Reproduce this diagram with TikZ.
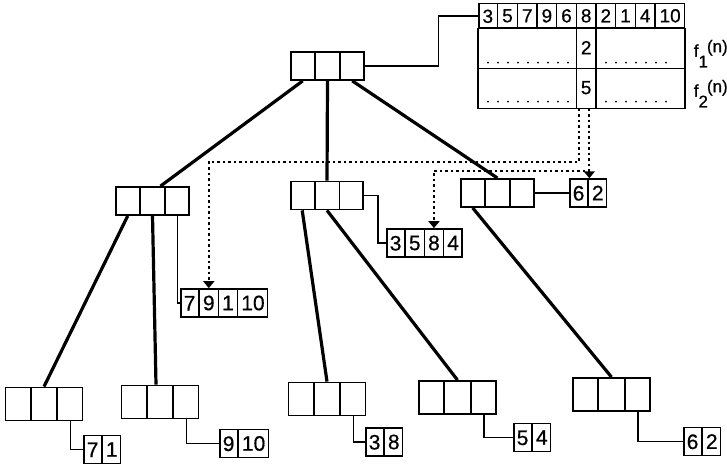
\documentclass[tikz,border=0pt]{standalone}
\usepackage{fontspec}
\setmainfont{Liberation Sans}[FakeBold=0.6]
\usetikzlibrary{shapes.multipart,calc,arrows.meta}
\newcommand{\emptycell}[2]{\makebox[#1]{\rule{0pt}{#2}}}
\newcommand{\cells}[2]{\emptycell{#1}{#2}\nodepart{two}\emptycell{#1}{#2}\nodepart{three}\emptycell{#1}{#2}}
\tikzset{
  trinode/.style={draw, line width=1.8pt, rectangle split, rectangle split horizontal,
    rectangle split parts=3, inner sep=0pt},
  keybox/.style={draw, line width=1.5pt, rectangle split, rectangle split horizontal,
    inner xsep=3pt, inner ysep=6.5pt, text height=15pt, text depth=0pt,
    font=\fontsize{21}{21}\selectfont, anchor=west},
  treeedge/.style={line width=3.2pt},
  link/.style={line width=1.5pt},
  frame/.style={line width=1.6pt},
  rowdots/.style={line width=2pt, dash pattern=on 0pt off 10pt, line cap=round},
  ptr/.style={line width=2pt, dash pattern=on 2.5pt off 3pt, -{Triangle[width=11pt,length=7pt]}},
}
\begin{document}
\begin{tikzpicture}[x=1pt,y=-1pt]
\useasboundingbox (0,0) rectangle (727,465);

% tree
\node[trinode] (root) at (327.5,66) {\cells{23pt}{28pt}};
\node[trinode] (L) at (152.5,201) {\cells{23pt}{28pt}};
\node[trinode] (M) at (327,195.5) {\cells{23pt}{28pt}};
\node[trinode] (R) at (497.5,193) {\cells{23pt}{28pt}};
\node[trinode] (LL) at (44,404) {\cells{24.5pt}{33pt}};
\node[trinode] (LM) at (160,402) {\cells{24.5pt}{33pt}};
\node[trinode] (ML) at (327,399) {\cells{24.5pt}{33pt}};
\node[trinode] (MR) at (457.5,397.5) {\cells{24.5pt}{33pt}};
\node[trinode] (RR) at (611.5,394.5) {\cells{24.5pt}{33pt}};

\draw[treeedge] (root.one south) -- ($(L.north)+(8,0)$);
\draw[treeedge] (root.two south) -- (M.two north);
\draw[treeedge] (root.three south) -- (R.two north);
\draw[treeedge] (L.one south) -- (LL.two north);
\draw[treeedge] (L.two south) -- ($(LM.two north)+(-4,0)$);
\draw[treeedge] (M.one south) -- (ML.two north);
\draw[treeedge] (M.two south) -- (MR.two north);
\draw[treeedge] (R.one south) -- (RR.two north);

% key lists
\node[keybox, rectangle split parts=10, font=\fontsize{19}{19}\selectfont, inner xsep=3.8pt,
  inner ysep=5pt, text height=14pt, anchor=north west] (perm) at (478,3)
  {3\nodepart{two}5\nodepart{three}7\nodepart{four}9\nodepart{five}6\nodepart{six}8%
   \nodepart{seven}2\nodepart{eight}1\nodepart{nine}4\nodepart{ten}10};
\node[keybox, rectangle split parts=4] (k7) at (180,303) {7\nodepart{two}9\nodepart{three}1\nodepart{four}10};
\node[keybox, rectangle split parts=4] (k3) at (386,243) {3\nodepart{two}5\nodepart{three}8\nodepart{four}4};
\node[keybox, rectangle split parts=2] (k6) at (569,193) {6\nodepart{two}2};
\node[keybox, rectangle split parts=2] (k71) at (83,449.5) {7\nodepart{two}1};
\node[keybox, rectangle split parts=2] (k910) at (219,443.5) {9\nodepart{two}10};
\node[keybox, rectangle split parts=2] (k38) at (365,442) {3\nodepart{two}8};
\node[keybox, rectangle split parts=2] (k54) at (513,437.5) {5\nodepart{two}4};
\node[keybox, rectangle split parts=2] (k62) at (683,441.5) {6\nodepart{two}2};

\draw[link] (root.east) -- ++(74,0) |- (perm.west);
\draw[link] (L.three south) |- (k7.west);
\draw[link] (M.east) -- ++(14,0) |- (k3.west);
\draw[link] (R.east) -- (k6.west);
\draw[link] (LL.three south) |- (k71.west);
\draw[link] (LM.three south) |- (k910.west);
\draw[link] (ML.three south) |- (k38.west);
\draw[link] (MR.three south) |- (k54.west);
\draw[link] (RR.three south) |- (k62.west);

% f rows
\draw[frame] (perm.south west) rectangle ($(perm.south east)+(0,40)$);
\draw[frame] ($(perm.south west)+(0,40)$) rectangle ($(perm.south east)+(0,80)$);
\draw[frame] (perm.five split south) -- ++(0,80);
\draw[frame] (perm.six split south) -- ++(0,80);
\draw[rowdots] ($(perm.south west)+(10,34)$) -- ($(perm.five split south)+(-6,34)$);
\draw[rowdots] ($(perm.six split south)+(10,34)$) -- ($(perm.south east)+(-10,34)$);
\draw[rowdots] ($(perm.south west)+(10,73)$) -- ($(perm.five split south)+(-6,73)$);
\draw[rowdots] ($(perm.six split south)+(10,73)$) -- ($(perm.south east)+(-10,73)$);
\node[font=\fontsize{19}{19}\selectfont] (fa) at ($(perm.six south)+(0,19)$) {2};
\node[font=\fontsize{19}{19}\selectfont] (fb) at ($(perm.six south)+(0,59)$) {5};
\node[anchor=west, font=\fontsize{17}{17}\selectfont] (fone) at ($(perm.south east)+(5,25)$)
  {f\raisebox{-1.2ex}{1}\kern-1pt\raisebox{0.5ex}{(n)}};
\node[anchor=west, font=\fontsize{17}{17}\selectfont] (ftwo) at ($(perm.south east)+(5,65)$)
  {f\raisebox{-1.2ex}{2}\kern-1pt\raisebox{0.5ex}{(n)}};

% pointers
\coordinate (pa) at ($(perm.five split south)+(3,80)$);
\coordinate (pb) at ($(perm.five split south)+(13,80)$);
\draw[ptr] (pa) -- ++(0,53) -| (k7.two north);
\draw[ptr] (pb) -- ++(0,62) -| (k3.three north);
\draw[ptr] (pb) -- (pb |- k6.north);
\end{tikzpicture}
\end{document}
